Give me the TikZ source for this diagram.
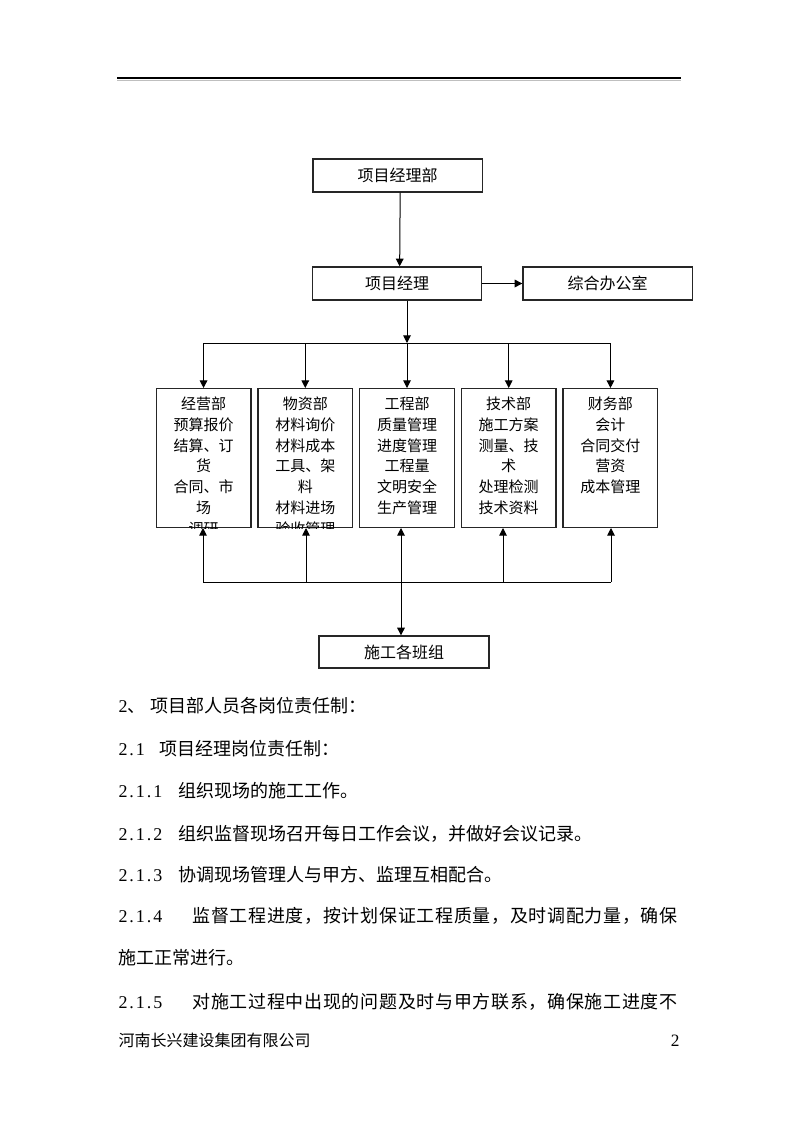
\documentclass[tikz,border=0pt]{standalone}
\usepackage{fontspec}
\setmainfont{Noto Sans CJK SC}
\newfontfamily\numfont{Liberation Serif}[LetterSpace=11]
\usetikzlibrary{positioning,arrows.meta}

\begin{document}
\begin{tikzpicture}[x=0.75pt,y=-0.75pt,line width=0.75pt,
    arr/.style={-{Triangle[length=5.8pt,width=5.8pt]}},
    top box/.style={draw=black!85,line width=1pt,minimum width=127pt,minimum height=24.75pt,
        inner sep=0pt,font=\fontsize{12}{14}\selectfont},
    dept/.style={draw=black!85,line width=1pt,minimum width=71pt,minimum height=104pt,inner sep=0pt},
    dept text/.style={anchor=north,align=center,inner sep=0pt,yshift=-6pt,
        font=\fontsize{11.25}{15.7}\selectfont},
    body/.style={anchor=west,inner sep=0pt,text height=11.9pt,text depth=1.6pt,
        font=\fontsize{13.5}{16}\selectfont},
    num/.style={body,font=\numfont\fontsize{13.5}{16}\selectfont},
    wide/.style={body,font=\fontsize{13.5}{16}\selectfont\addfontfeature{LetterSpace=3.8}},
    foot/.style={anchor=west,inner sep=0pt,text height=10.6pt,text depth=1.4pt,
        font=\fontsize{12}{14}\selectfont}]

    % Page and header rule
    \fill[white] (0,0) rectangle (800,1132);
    \draw[line width=1.2pt] (117,78) -- (681,78);
    \draw[black!25,line width=0.4pt] (117,80) -- (681,80);

    % Define boxes
    \node[top box] (jlb) at (397.5,175.5) {项目经理部};
    \node[top box] (jl) at (397,283.5) {项目经理};
    \node[top box,right=30pt of jl] (zh) {综合办公室};

    \node[dept] (gc) at (407,458) {};
    \node[dept,left=4.3pt of gc] (wz) {};
    \node[dept,left=4.3pt of wz] (jy) {};
    \node[dept,right=4.3pt of gc] (js) {};
    \node[dept,right=4.3pt of js] (cw) {};

    \node[top box,minimum width=127.5pt,minimum height=24pt] (bz) at (404,652) {施工各班组};

    % Department texts, cut off at the box edge
    \foreach \d/\txt in {jy/{经营部\\预算报价\\结算、订\\货\\合同、市\\场\\调研},
                         wz/{物资部\\材料询价\\材料成本\\工具、架\\料\\材料进场\\验收管理},
                         gc/{工程部\\质量管理\\进度管理\\工程量\\文明安全\\生产管理},
                         js/{技术部\\施工方案\\测量、技\\术\\处理检测\\技术资料},
                         cw/{财务部\\会计\\合同交付\\营资\\成本管理}}
    {
        \begin{scope}
            \clip (\d.south west) rectangle (\d.north east);
            \node[dept text] (\d t) at (\d.north) {\txt};
        \end{scope}
    }

    % Bus points
    \coordinate (tb) at (0,343);
    \coordinate (b1) at (203,582);
    \coordinate (b2) at (306,582);
    \coordinate (b3) at (401,582);
    \coordinate (b4) at (503,582);
    \coordinate (b5) at (611,582);

    % Draw edges
    \draw[arr] ([xshift=2pt]jlb.south) -- ([xshift=2pt]jl.north);
    \draw[arr] (jl) -- (zh);
    \draw[arr] (jl.south -| gc.north) -- (gc.north |- tb);
    \draw (jy.north |- tb) -- (cw.north |- tb);
    \foreach \d in {jy,wz,gc,js,cw}
        \draw[arr] (\d.north |- tb) -- (\d.north);
    \draw (b1) -- (b5);
    \foreach \d [count=\i] in {jy,wz,gc,js,cw}
        \draw[arr] (b\i) -- (b\i |- \d.south);
    \draw[arr] (b3) -- (b3 |- bz.north);

    % Text below the chart
    \node[num] (n1) at (118,706) {2{\rmfamily 、}};
    \node[body] (t1) at (150,706) {项目部人员各岗位责任制：};
    \node[num] (n2) at (118,749) {2.1};
    \node[body] (t2) at (159,749) {项目经理岗位责任制：};
    \node[num] (n3) at (118,791) {2.1.1};
    \node[body] (t3) at (178,791) {组织现场的施工工作。};
    \node[num] (n4) at (118,834) {2.1.2};
    \node[body] (t4) at (178,834) {组织监督现场召开每日工作会议，并做好会议记录。};
    \node[num] (n5) at (118,875) {2.1.3};
    \node[body] (t5) at (178,875) {协调现场管理人与甲方、监理互相配合。};
    \node[num] (n6) at (118,916) {2.1.4};
    \node[wide] (t6) at (192,916) {监督工程进度，按计划保证工程质量，及时调配力量，确保};
    \node[body] (t7) at (118,958) {施工正常进行。};
    \node[num] (n8) at (118,1002) {2.1.5};
    \node[wide] (t8) at (192,1002) {对施工过程中出现的问题及时与甲方联系，确保施工进度不};

    % Footer
    \node[foot] (ft) at (118,1040) {河南长兴建设集团有限公司};
    \node[foot,anchor=east,font=\numfont\fontsize{13}{14}\selectfont] (pg) at (680,1040) {2};

\end{tikzpicture}
\end{document}
